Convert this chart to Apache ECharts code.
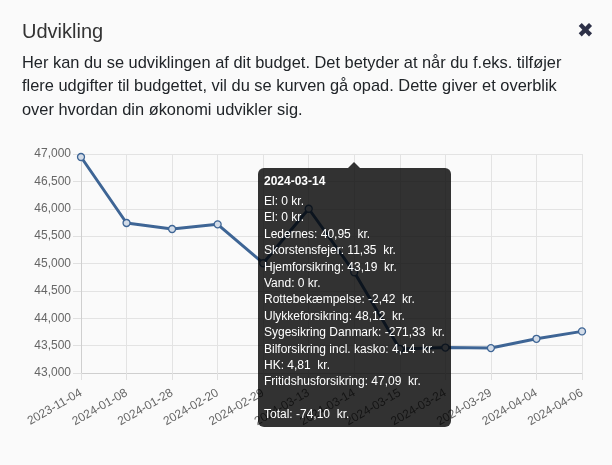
<!DOCTYPE html>
<html>
<head>
<meta charset="utf-8">
<script src="https://cdn.jsdelivr.net/npm/echarts@6/dist/echarts.min.js"></script>
<style>
    html, body {
        margin: 0;
        padding: 0;
        background: #fafafa;
        width: 612px;
        height: 465px;
        overflow: hidden;
        font-family: 'Helvetica Neue', Helvetica, Arial, 'Liberation Sans', sans-serif;
    }
    #head {
        position: absolute;
        left: 22px;
        top: 0;
        width: 580px;
        z-index: 2;
    }
    #head h4 {
        margin: 0;
        position: absolute;
        top: 19px;
        left: 0;
        font-size: 20px;
        font-weight: normal;
        line-height: 24px;
        color: #333;
        white-space: nowrap;
    }
    #head p {
        margin: 0;
        position: absolute;
        top: 51px;
        left: 0;
        font-size: 16.4px;
        line-height: 23.3px;
        color: #212529;
        white-space: nowrap;
    }
    #close {
        position: absolute;
        left: 577px;
        top: 18px;
        font-family: 'DejaVu Sans', sans-serif;
        font-size: 20px;
        line-height: 24px;
        color: #2d3047;
        z-index: 2;
    }
    #chart {
        position: absolute;
        left: 0;
        top: 0;
        width: 612px;
        height: 465px;
    }
</style>
</head>
<body>
<div id="chart"></div>
<div id="head">
    <h4>Udvikling</h4>
    <p>Her kan du se udviklingen af dit budget. Det betyder at når du f.eks. tilføjer<br>flere udgifter til budgettet, vil du se kurven gå opad. Dette giver et overblik<br>over hvordan din økonomi udvikler sig.</p>
</div>
<div id="close">✖</div>
<script>
// datoer og saldo
var dates = ['2023-11-04', '2024-01-08', '2024-01-28', '2024-02-20', '2024-02-29', '2024-03-13',
    '2024-03-14', '2024-03-15', '2024-03-24', '2024-03-29', '2024-04-04', '2024-04-06'];
var balance = [46945, 45740, 45630, 45715, 45005, 46000, 44840, 43440, 43465, 43455, 43625, 43760];

// tooltip for 2024-03-14
var tipIndex = 6;
var tipNames = ['El', 'El', 'Ledernes', 'Skorstensfejer', 'Hjemforsikring', 'Vand', 'Rottebekæmpelse',
    'Ulykkeforsikring', 'Sygesikring Danmark', 'Bilforsikring incl. kasko', 'HK', 'Fritidshusforsikring'];
var tipValues = [0, 0, 40.95, 11.35, 43.19, 0, -2.42, 48.12, -271.33, 4.14, 4.81, 47.09];

var FONT = "'Helvetica Neue', Helvetica, Arial, 'Liberation Sans', sans-serif";

function kr(v) {
    if (v === 0) return '0 kr.';
    return v.toFixed(2).replace('.', ',') + '&nbsp; kr.';
}

function tipHtml(params) {
    var p = Array.isArray(params) ? params[0] : params;
    var html = '<div style="font-weight:bold;line-height:14px;margin-bottom:5px;">' + p.name + '</div>';
    var total = 0;
    for (var i = 0; i < tipNames.length; i++) {
        total += tipValues[i];
        html += '<div style="line-height:16.4px;">' + tipNames[i] + ': ' + kr(tipValues[i]) + '</div>';
    }
    html += '<div style="line-height:16.4px;">&nbsp;</div>';
    html += '<div style="line-height:16.4px;">Total: ' + kr(Math.round(total * 100) / 100) + '</div>';
    return html;
}

var myChart = echarts.init(document.getElementById('chart'));
var option = {
    backgroundColor: 'transparent',
    animation: false,
    textStyle: { fontFamily: FONT },
    grid: {
        left: 81,
        right: 30,
        top: 154,
        bottom: 92
    },
    tooltip: {
        trigger: 'item',
        triggerOn: 'none',
        alwaysShowContent: true,
        position: [258, 168],
        backgroundColor: 'rgba(0,0,0,0.8)',
        borderWidth: 0,
        borderRadius: 6,
        padding: [6, 6, 4, 6],
        textStyle: {
            color: '#fff',
            fontSize: 12,
            fontFamily: FONT
        },
        extraCssText: 'box-shadow:none;white-space:nowrap;',
        formatter: tipHtml
    },
    xAxis: {
        type: 'category',
        boundaryGap: false,
        data: dates,
        axisLine: { lineStyle: { color: '#cfcfcf', width: 1 } },
        axisTick: { show: true, length: 7, lineStyle: { color: '#e0e0e0' } },
        axisLabel: {
            interval: 0,
            rotate: 30,
            margin: 19,
            color: '#666',
            fontSize: 12,
            fontFamily: FONT
        },
        splitLine: { show: true, lineStyle: { color: '#e3e3e3' } }
    },
    yAxis: {
        type: 'value',
        min: 43000,
        max: 47000,
        interval: 500,
        axisLine: { show: true, lineStyle: { color: '#cfcfcf', width: 1 } },
        axisTick: { show: true, length: 8, lineStyle: { color: '#e0e0e0' } },
        axisLabel: {
            margin: 10,
            color: '#666',
            fontSize: 12,
            fontFamily: FONT
        },
        splitLine: { show: true, lineStyle: { color: '#e3e3e3' } }
    },
    series: [{
        type: 'line',
        data: balance,
        symbol: 'circle',
        symbolSize: 7,
        lineStyle: { color: '#3e6595', width: 3 },
        itemStyle: { color: '#d3dce8', borderColor: '#3e6595', borderWidth: 1.3 },
        emphasis: { disabled: true }
    }],
    graphic: [{
        type: 'polygon',
        shape: { points: [[348, 168], [354, 162], [360, 168]] },
        style: { fill: 'rgba(0,0,0,0.8)' },
        z: 100
    }]
};
myChart.setOption(option);
myChart.dispatchAction({ type: 'showTip', seriesIndex: 0, dataIndex: tipIndex });
</script>
</body>
</html>
